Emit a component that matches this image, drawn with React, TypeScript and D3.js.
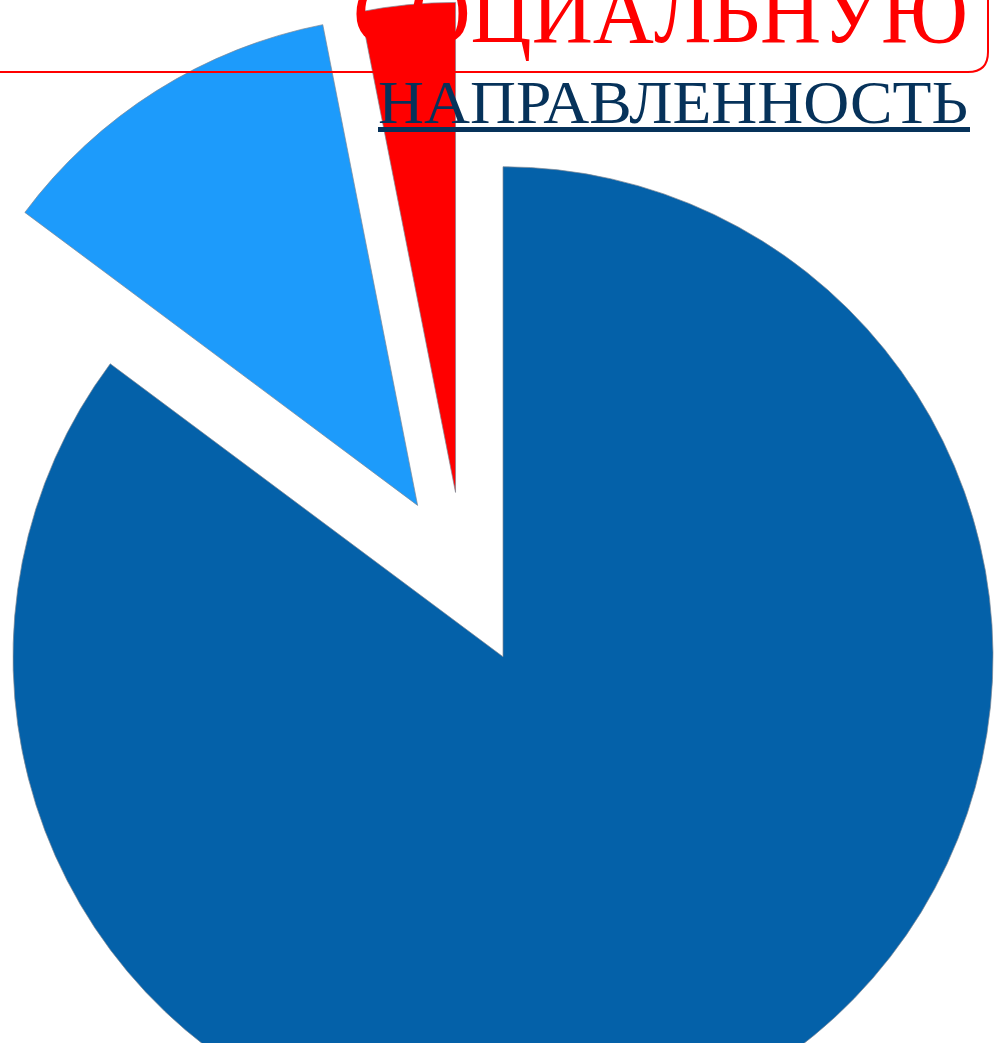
import React from "react";
import * as d3 from "d3";

const categories = ["Сегмент 1", "Сегмент 2", "Сегмент 3"];
const values = [85.2, 11.7, 3.1];
const colors = ["#0461A9", "#1D9BFB", "#FF0000"];
const titleLine1 = "СОЦИАЛЬНУЮ";
const titleLine2 = "НАПРАВЛЕННОСТЬ";

export default function App() {
  const W = 1002;
  const H = 1043;
  const cx = 464;
  const cy = 579;
  const R = 490;
  const explode = 87;

  const pie = d3.pie<number>().sort(null).value((d) => d);
  const arcs = pie(values);
  const arcGen = d3.arc<d3.PieArcDatum<number>>().innerRadius(0).outerRadius(R);

  return (
    <svg
      width={W}
      height={H}
      style={{ position: "absolute", left: 0, top: 0, background: "#fff" }}
    >
      <g transform={`translate(${cx},${cy})`}>
        {arcs.map((a, i) => {
          const mid = (a.startAngle + a.endAngle) / 2;
          const dx = explode * Math.sin(mid);
          const dy = -explode * Math.cos(mid);
          return (
            <path
              key={categories[i]}
              d={arcGen(a) || ""}
              transform={`translate(${dx},${dy})`}
              fill={colors[i]}
              stroke="#7d8894"
              strokeWidth={1}
              strokeOpacity={0.7}
            />
          );
        })}
      </g>
      <text
        x={353}
        y={42}
        fontFamily="'Liberation Serif', 'Times New Roman', serif"
        fontSize={88}
        fill="#FF0000"
        textLength={615}
        lengthAdjust="spacingAndGlyphs"
      >
        {titleLine1}
      </text>
      <path
        d="M0,72 H968 Q988,72 988,52 V-10"
        fill="none"
        stroke="#FF0000"
        strokeWidth={2}
      />
      <text
        x={378}
        y={123}
        fontFamily="'Liberation Serif', 'Times New Roman', serif"
        fontSize={62}
        fill="#06325A"
        textLength={590}
        lengthAdjust="spacingAndGlyphs"
      >
        {titleLine2}
      </text>
      <rect x={378} y={127} width={592} height={5} fill="#06325A" />
    </svg>
  );
}
